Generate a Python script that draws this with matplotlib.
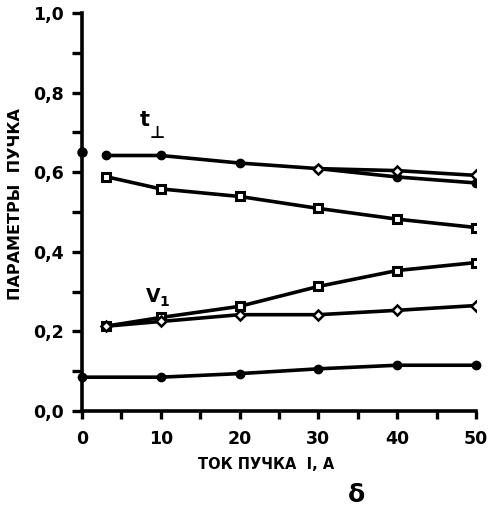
import matplotlib
matplotlib.use("Agg")
import matplotlib.pyplot as plt
from matplotlib.ticker import MultipleLocator, FuncFormatter

plt.rcParams["font.family"] = ["DejaVu Sans"]
plt.rcParams["font.weight"] = "bold"

# beam current, A
current = [3, 10, 20, 30, 40, 50]
current_low = [0, 10, 20, 30, 40, 50]
current_tail = [30, 40, 50]

# t_perp curves
t_dots = [0.642, 0.642, 0.623, 0.609, 0.588, 0.573]
t_diamonds = [0.609, 0.604, 0.592]
t_squares = [0.589, 0.558, 0.539, 0.509, 0.482, 0.461]
t_axis_point = 0.652

# V1 curves
v_squares = [0.213, 0.235, 0.263, 0.313, 0.353, 0.373]
v_diamonds = [0.213, 0.225, 0.242, 0.242, 0.253, 0.265]

# lowest curve
low_dots = [0.085, 0.085, 0.094, 0.106, 0.115, 0.115]

fig = plt.figure(figsize=(4.91, 5.2), dpi=100)
ax = fig.add_axes([0.167, 0.2096, 0.8025, 0.7654])

lw = 2.6
ax.plot(current, t_dots, color="black", lw=lw, marker="o", ms=6, zorder=3)
ax.plot(current_tail, t_diamonds, color="black", lw=lw, marker="D", ms=5,
        mfc="white", mew=1.8, zorder=3)
ax.plot(current, t_squares, color="black", lw=lw, marker="s", ms=6,
        mfc="white", mew=2.2, zorder=3)
ax.plot([0], [t_axis_point], color="black", marker="o", ms=6.5, ls="none",
        clip_on=False, zorder=4)

ax.plot(current, v_squares, color="black", lw=lw, marker="s", ms=6,
        mfc="white", mew=2.2, zorder=3)
ax.plot(current, v_diamonds, color="black", lw=lw, marker="D", ms=5,
        mfc="white", mew=1.8, zorder=3)

ax.plot(current_low, low_dots, color="black", lw=lw, marker="o", ms=6,
        clip_on=False, zorder=3)

ax.text(8.0, 0.731, "t", fontsize=15, ha="center", va="center")
ax.text(9.6, 0.699, "⊥", fontsize=12, fontweight="bold",
        family=["DejaVu Sans"], ha="center", va="center")
ax.text(9.0, 0.287, "V", fontsize=13.5, ha="center", va="center")
ax.text(10.4, 0.275, "1", fontsize=10, ha="center", va="center")

ax.set_xlim(0, 50)
ax.set_ylim(0, 1.0)
for side in ["top", "right"]:
    ax.spines[side].set_visible(False)
for side in ["left", "bottom"]:
    ax.spines[side].set_linewidth(2.6)

ax.xaxis.set_major_locator(MultipleLocator(10))
ax.xaxis.set_minor_locator(MultipleLocator(5))
ax.yaxis.set_major_locator(MultipleLocator(0.2))
ax.yaxis.set_minor_locator(MultipleLocator(0.1))
ax.yaxis.set_major_formatter(FuncFormatter(lambda v, p: f"{v:.1f}".replace(".", ",")))
ax.tick_params(which="both", direction="out", width=2.4, labelsize=12.5)
ax.tick_params(axis="y", which="both", length=7, pad=6)
ax.tick_params(axis="x", which="both", length=6, pad=8)
for lab in ax.get_xticklabels() + ax.get_yticklabels():
    lab.set_fontweight("bold")

ax.set_ylabel("ПАРАМЕТРЫ  ПУЧКА", fontsize=11.5, fontweight="bold")
ax.yaxis.set_label_coords(-0.15, 0.52)
ax.set_xlabel("ТОК ПУЧКА  I, А", fontsize=10.5, fontweight="bold")
ax.xaxis.set_label_coords(0.467, -0.115)
fig.text(0.727, 0.025, "δ", fontsize=18, ha="center", va="bottom")

fig.savefig("out.png", dpi=100)
